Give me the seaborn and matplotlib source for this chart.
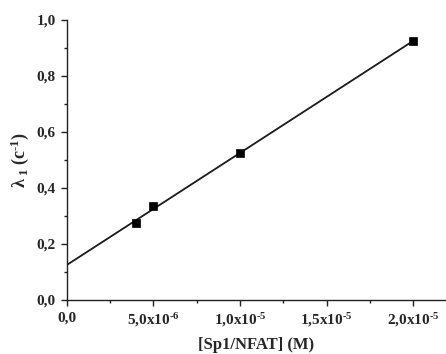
import numpy as np
import pandas as pd
import matplotlib
matplotlib.use("Agg")
import matplotlib.pyplot as plt
from matplotlib.ticker import MultipleLocator, FuncFormatter
import seaborn as sns

# Measured first-order rate constant vs. complex concentration
concentration = [4.0e-6, 5.0e-6, 1.0e-5, 2.0e-5]
rate = [0.276, 0.336, 0.524, 0.925]

sns.set_theme(style="ticks")
plt.rcParams["font.family"] = ["Liberation Serif", "DejaVu Serif"]
plt.rcParams["font.weight"] = "bold"
plt.rcParams["mathtext.fontset"] = "custom"
plt.rcParams["mathtext.rm"] = "Liberation Serif:bold"
plt.rcParams["mathtext.it"] = "Liberation Serif:bold"
plt.rcParams["mathtext.bf"] = "Liberation Serif:bold"

HYPHEN = "\u2010"

df = pd.DataFrame({"conc": concentration, "rate": rate})

# Linear least-squares fit, drawn from x = 0 to the last point
slope, intercept = np.polyfit(df["conc"], df["rate"], 1)
fit_x = np.array([0.0, max(concentration)])
fit = pd.DataFrame({"conc": fit_x, "rate": slope * fit_x + intercept})

fig = plt.figure(figsize=(4.46, 3.54), dpi=100)
ax = fig.add_axes([0.150, 0.1525, 0.85, 0.791])

sns.lineplot(data=fit, x="conc", y="rate", ax=ax, color="#1a1a1a", linewidth=1.3)
sns.scatterplot(data=df, x="conc", y="rate", ax=ax, marker="s", s=30,
                color="black", edgecolor="black", linewidth=0.5, zorder=3)

ax.set_xlim(0, 2.19e-5)
ax.set_ylim(0, 1.0)
sns.despine(ax=ax)
for side in ("left", "bottom"):
    ax.spines[side].set_linewidth(1.0)
    ax.spines[side].set_color("#222222")

ax.xaxis.set_major_locator(MultipleLocator(5e-6))
ax.xaxis.set_minor_locator(MultipleLocator(2.5e-6))
ax.yaxis.set_major_locator(MultipleLocator(0.2))
ax.yaxis.set_minor_locator(MultipleLocator(0.1))


def xfmt(v, pos):
    if abs(v) < 1e-12:
        return "0,0"
    exp = int(np.floor(np.log10(abs(v))))
    mant = v / 10 ** exp
    return (f"{mant:.1f}".replace(".", ",") + "x10"
            + "$^{" + HYPHEN + f"{abs(exp)}" + "}$")


def yfmt(v, pos):
    return f"{v:.1f}".replace(".", ",")


ax.xaxis.set_major_formatter(FuncFormatter(xfmt))
ax.yaxis.set_major_formatter(FuncFormatter(yfmt))
ax.tick_params(which="major", direction="out", length=4, width=1.0,
               labelsize=11, color="#222222", pad=4)
ax.tick_params(which="minor", direction="out", length=2.5, width=1.0,
               color="#222222")
for lab in ax.get_xticklabels() + ax.get_yticklabels():
    lab.set_fontweight("bold")

ax.set_xlabel("[Sp1/NFAT] (M)", fontsize=12, fontweight="bold", labelpad=6)
ax.set_ylabel(r"$\lambda_{\ 1}$ (c$^{" + HYPHEN + "1}$)", fontsize=13,
              fontweight="bold", labelpad=4)

fig.savefig("out.png", dpi=100, facecolor="white")
